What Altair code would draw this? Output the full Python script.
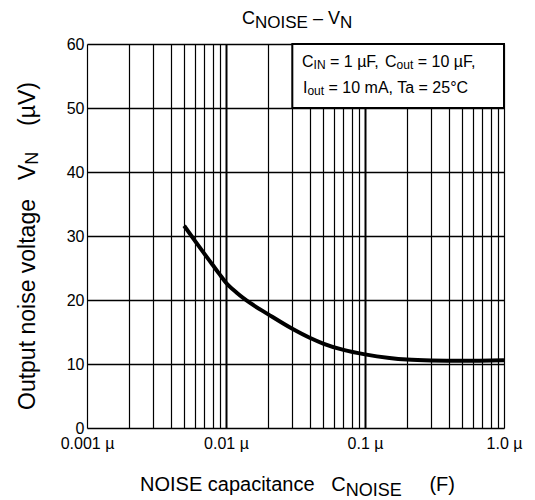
import altair as alt
import pandas as pd

# ---- data ----
c_noise_uF = [0.005, 0.006, 0.007, 0.008, 0.009, 0.01, 0.012, 0.015, 0.02, 0.03,
              0.04, 0.05, 0.07, 0.1, 0.15, 0.2, 0.3, 0.5, 1.0]
v_noise_uV = [31.6, 29.2, 27.2, 25.5, 24.0, 22.7, 21.1, 19.5, 17.8, 15.5,
              14.1, 13.2, 12.2, 11.5, 10.95, 10.7, 10.55, 10.5, 10.6]

x_grid_values = [round(m * d, 6) for d in [0.001, 0.01, 0.1] for m in range(1, 10)] + [1.0]
y_tick_values = [0, 10, 20, 30, 40, 50, 60]
x_tick_labels = {0.001: "0.001 µ", 0.01: "0.01 µ", 0.1: "0.1 µ", 1.0: "1.0 µ"}

box_x = [0.03, 1.0]
box_y = [50, 60]

FONT = "Liberation Sans"
W, H = 417, 384

df = pd.DataFrame({"C": c_noise_uF, "V": v_noise_uV})

label_expr = " : ".join(
    [f"datum.value == {k} ? '{v}'" for k, v in x_tick_labels.items()]
) + " : ''"

xscale = alt.Scale(type="log", domain=[0.001, 1.0], nice=False)
yscale = alt.Scale(domain=[0, 60], nice=False)

xaxis = alt.Axis(
    values=x_grid_values,
    labelExpr=label_expr,
    grid=True,
    gridColor="black",
    gridOpacity=1,
    gridWidth={"condition": {"test": "datum.value == 0.01 || datum.value == 0.1", "value": 2.0}, "value": 1.2},
    ticks=False,
    domain=False,
    labelFont=FONT,
    labelFontSize=16,
    labelColor="black",
    labelPadding=7,
    labelFlush=False,
    labelOverlap=False,
    title=None,
)
yaxis = alt.Axis(
    values=y_tick_values,
    grid=True,
    gridColor="black",
    gridOpacity=1,
    gridWidth=1.5,
    ticks=False,
    domain=False,
    labelFont=FONT,
    labelFontSize=16,
    labelColor="black",
    labelPadding=3,
    labelBaseline="middle",
    title=None,
)

curve = alt.Chart(df).mark_line(
    color="black", strokeWidth=4, interpolate="monotone", clip=True
).encode(
    x=alt.X("C:Q", scale=xscale, axis=xaxis),
    y=alt.Y("V:Q", scale=yscale, axis=yaxis),
)

box = alt.Chart(pd.DataFrame({"x1": [box_x[0]], "x2": [box_x[1]],
                              "y1": [box_y[0]], "y2": [box_y[1]]})).mark_rect(
    fill="white", stroke="black", strokeWidth=2
).encode(
    x=alt.X("x1:Q", scale=xscale), x2="x2:Q",
    y=alt.Y("y1:Q", scale=yscale), y2="y2:Q",
)

OX, OY = 87, 44  # plot origin in page coords

# Arial/Liberation Sans advance widths (per em)
ADV = {" ": .278, "=": .584, "0": .556, "1": .556, "2": .556, "5": .556,
       "µ": .576, "F": .611, ",": .278, "C": .722, "I": .278, "N": .722,
       "O": .778, "S": .667, "E": .667, "o": .556, "u": .556, "t": .278,
       "m": .833, "A": .667, "T": .611, "a": .556, "°": .4, "–": .556,
       "V": .667, "(": .333, ")": .333, "p": .556, "n": .556, "i": .222,
       "s": .5, "e": .556, "v": .5, "l": .222, "g": .556, "c": .5}


def tw(text, size):
    return sum(ADV.get(ch, .556) for ch in text) * size


def label(text, x, y, size, angle=0):
    return alt.Chart(pd.DataFrame({"t": [text]})).mark_text(
        text=text, font=FONT, fontSize=size, color="black",
        align="left", baseline="alphabetic", angle=angle,
    ).encode(x=alt.value(x - OX), y=alt.value(y - OY))


def run(pieces, x0, y0):
    out, x = [], x0
    for text, size, shift in pieces:
        lead = len(text) - len(text.lstrip(" "))
        x += tw(" " * lead, size)
        body = text.strip(" ")
        if body:
            out.append(label(body, x, y0 + shift, size))
        x += tw(text[lead:], size)
    return out


def run_up(pieces, x0, y0):
    out, y = [], y0
    for text, size, shift in pieces:
        lead = len(text) - len(text.lstrip(" "))
        y -= tw(" " * lead, size)
        body = text.strip(" ")
        if body:
            out.append(label(body, x0 + shift, y, size, 270))
        y -= tw(text[lead:], size)
    return out


labels = []
# title
labels += run([("C", 18, 0), ("NOISE", 17, 3.5), (" – ", 18, 0), ("V", 18, 0), ("N", 17, 3.5)], 242, 24)
# x title
labels += run([("NOISE capacitance   ", 20, 0), ("C", 20, 0), ("NOISE", 18, 5), ("     (F)", 20, 0)], 140, 491)
# y title (rotated)
labels += run_up([("Output noise voltage", 23, 0)], 35, 410)
labels += run_up([("V", 23, 0), ("N", 18, 3)], 35, 180)
labels += run_up([("(µV)", 23, 0)], 35, 126)
# box text
labels += run([("C", 16, 0), ("IN", 12, 2), (" = 1 µF, ", 16, 0), ("C", 16, 0),
               ("out", 12, 2), (" = 10 µF,", 16, 0)], 302, 67)
labels += run([("I", 16, 0), ("out", 12, 2), (" = 10 mA, Ta = 25°C", 16, 0)], 303, 93)

chart = alt.layer(box, curve, *labels).properties(
    width=W, height=H,
    autosize=alt.AutoSizeParams(type="none"),
    padding={"left": 79, "top": 36, "right": 23, "bottom": 72},
).configure_view(
    stroke="black", strokeWidth=2.5
).configure(background="white")

chart.save("out.html", embed_options={"renderer": "svg", "actions": False})
